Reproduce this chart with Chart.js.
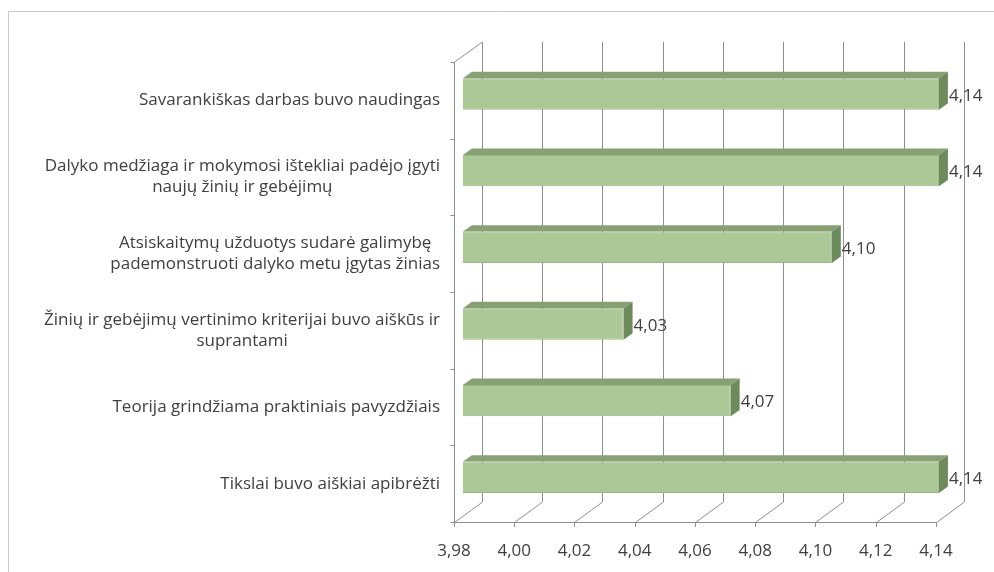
<!DOCTYPE html>
<html><head><meta charset="utf-8">
<script src="https://cdn.jsdelivr.net/npm/chart.js@4.4.1/dist/chart.umd.min.js"></script>
<style>html,body{margin:0;padding:0;background:#fff;}#wrap{width:994px;height:572px;position:relative;}</style>
</head><body><div id="wrap"><canvas id="c" width="994" height="572"></canvas></div>
<script>
const categories = [
  ["Savarankiškas darbas buvo naudingas"],
  ["Dalyko medžiaga ir mokymosi ištekliai padėjo įgyti", "naujų žinių ir gebėjimų"],
  ["Atsiskaitymų užduotys sudarė galimybę", "pademonstruoti dalyko metu įgytas žinias"],
  ["Žinių ir gebėjimų vertinimo kriterijai buvo aiškūs ir", "suprantami"],
  ["Teorija grindžiama praktiniais pavyzdžiais"],
  ["Tikslai buvo aiškiai apibrėžti"]
];
const values = [4.14, 4.14, 4.104, 4.034, 4.07, 4.14];
const tickValues = [3.98, 4.00, 4.02, 4.04, 4.06, 4.08, 4.10, 4.12, 4.14];
const axisMin = 3.98;
const axisMax = 4.14;

const fmt = v => v.toFixed(2).replace('.', ',');
const FONT_SIZE = 17;
const FONT = FONT_SIZE + 'px "Open Sans"';
const TEXT = '#404040';
const LINE = '#8e8e8e';
const DX = 28, DY = -20;          // depth of the 3D walls
const BF = 0.32, BB = 0.64;       // front/back depth fraction of bars
const PERSP = 476 / 482;          // slight perspective shrink at bar plane

const threeD = {
  id: 'threeD',
  beforeDraw(chart) {
    const ctx = chart.ctx;
    ctx.save();
    ctx.strokeStyle = '#c9c9c9';
    ctx.lineWidth = 1;
    ctx.beginPath();
    ctx.moveTo(8.5, 600); ctx.lineTo(8.5, 11.5); ctx.lineTo(1000, 11.5);
    ctx.stroke();
    ctx.restore();
  },
  beforeDatasetsDraw(chart) {
    const ctx = chart.ctx;
    const {left, right, top, bottom} = chart.chartArea;
    const xs = chart.scales.x, ys = chart.scales.y;
    ctx.save();
    ctx.strokeStyle = LINE;
    ctx.lineWidth = 1;
    ctx.beginPath();
    tickValues.forEach(v => {
      const px = Math.round(xs.getPixelForValue(v)) + 0.5;
      ctx.moveTo(px + DX, top + DY); ctx.lineTo(px + DX, bottom + DY);
      ctx.moveTo(px, bottom + 0.5); ctx.lineTo(px + DX, bottom + DY);
      ctx.moveTo(px, bottom); ctx.lineTo(px, bottom + 5);
    });
    ctx.moveTo(left, bottom + 0.5); ctx.lineTo(Math.round(right) + 1, bottom + 0.5);
    const lx = Math.round(left) + 0.5;
    ctx.moveTo(lx, bottom); ctx.lineTo(lx, top);
    ctx.lineTo(lx + DX, top + DY);
    const pitch = ys.getPixelForValue(1) - ys.getPixelForValue(0);
    for (let i = 0; i <= categories.length; i++) {
      const py = Math.round(ys.getPixelForValue(i) - pitch / 2) + 0.5;
      ctx.moveTo(lx - 4, py); ctx.lineTo(lx, py);
    }
    ctx.stroke();
    ctx.restore();

    // category labels
    ctx.save();
    ctx.font = FONT;
    ctx.fillStyle = TEXT;
    ctx.textAlign = 'center';
    ctx.textBaseline = 'middle';
    const rightEdge = left - 14;
    categories.forEach((lines, i) => {
      const cy = ys.getPixelForValue(i);
      const w = Math.max(...lines.map(l => ctx.measureText(l).width));
      const cx = rightEdge - w / 2;
      const lh = 21;
      lines.forEach((l, j) => {
        ctx.fillText(l, cx, cy + (j - (lines.length - 1) / 2) * lh);
      });
    });
    ctx.restore();

    // bar plane transform
    ctx.save();
    ctx.translate(left + DX * BF, DY * BF);
    ctx.scale(PERSP, 1);
    ctx.translate(-left, 0);
  },
  afterDatasetsDraw(chart) {
    const ctx = chart.ctx;
    const {left} = chart.chartArea;
    const meta = chart.getDatasetMeta(0);
    const ddx = DX * (BB - BF) / PERSP, ddy = DY * (BB - BF);
    meta.data.forEach(el => {
      const h = el.height;
      const t = el.y - h / 2, b = el.y + h / 2;
      const x0 = Math.max(el.base, left), x1 = el.x;
      ctx.fillStyle = '#87a175';
      ctx.beginPath();
      ctx.moveTo(x0, t); ctx.lineTo(x0 + ddx, t + ddy);
      ctx.lineTo(x1 + ddx, t + ddy); ctx.lineTo(x1, t); ctx.closePath();
      ctx.fill();
      ctx.fillStyle = '#6e8b5e';
      ctx.beginPath();
      ctx.moveTo(x1, t); ctx.lineTo(x1 + ddx, t + ddy);
      ctx.lineTo(x1 + ddx, b + ddy); ctx.lineTo(x1, b); ctx.closePath();
      ctx.fill();
    });
    ctx.restore();

    // data labels
    ctx.save();
    ctx.font = FONT;
    ctx.fillStyle = TEXT;
    ctx.textAlign = 'left';
    ctx.textBaseline = 'middle';
    meta.data.forEach((el, i) => {
      const sx = left + DX * BF + (el.x - left) * PERSP + DX * (BB - BF) + 1;
      const sy = el.y + DY * BF + 2;
      ctx.fillText(fmt(values[i]), sx, sy);
    });
    ctx.restore();
  }
};

new Chart(document.getElementById('c'), {
  type: 'bar',
  data: {
    labels: categories,
    datasets: [{
      data: values,
      backgroundColor: '#adc897',
      borderColor: '#9ab784',
      borderWidth: 1,
      borderSkipped: false,
      barPercentage: 0.41,
      categoryPercentage: 1.0
    }]
  },
  options: {
    responsive: false,
    animation: false,
    indexAxis: 'y',
    layout: {padding: {left: 454, right: 58, top: 62, bottom: 0}},
    plugins: {legend: {display: false}, tooltip: {enabled: false}},
    scales: {
      x: {
        min: axisMin, max: axisMax,
        afterBuildTicks: s => { s.ticks = tickValues.map(v => ({value: v})); },
        afterFit: s => { s.height = 50; },
        grid: {display: false},
        border: {display: false},
        ticks: {
          autoSkip: false, maxRotation: 0, padding: 11,
          color: TEXT, font: {family: 'Open Sans', size: FONT_SIZE},
          callback: v => fmt(v)
        }
      },
      y: {
        display: false,
        offset: true,
        grid: {display: false}
      }
    }
  },
  plugins: [threeD]
});
</script>
</body></html>
